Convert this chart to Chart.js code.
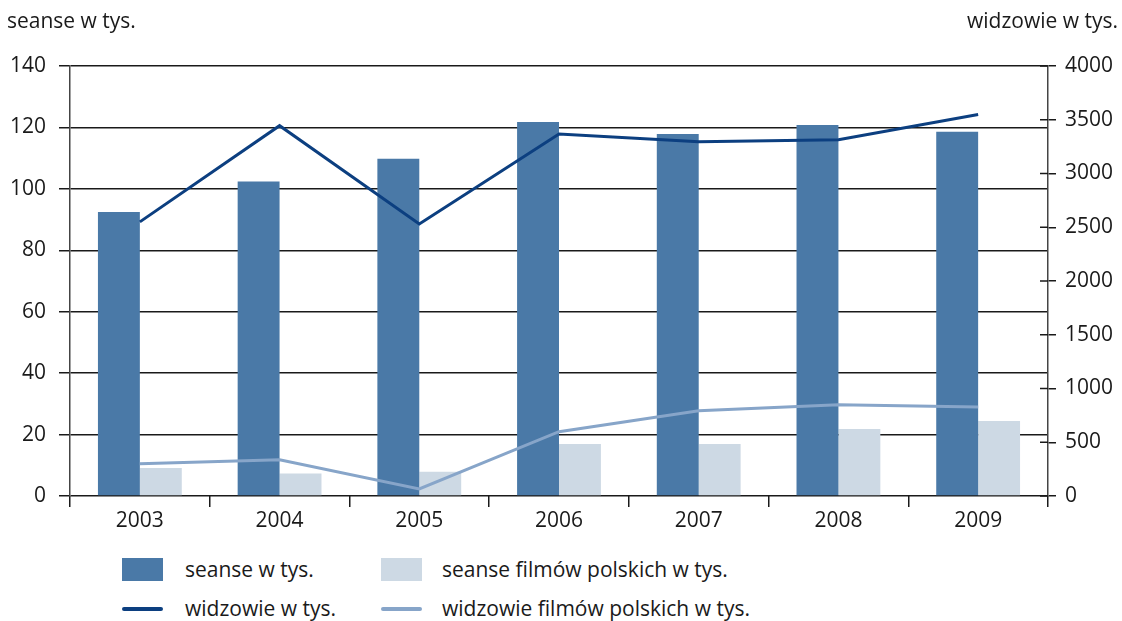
<!DOCTYPE html>
<html>
<head>
<meta charset="utf-8">
<script src="https://cdn.jsdelivr.net/npm/chart.js@4"></script>
<style>
  body { margin: 0; background: #fff; font-family: "Open Sans", sans-serif; }
  #wrap { position: relative; width: 1122px; height: 621px; }
  #c { position: absolute; left: 0; top: 0; }
  .lg { position: absolute; font-size: 21px; color: #1a1a1a; line-height: 26px; white-space: nowrap; }
  .sw { position: absolute; }
</style>
</head>
<body>
<div id="wrap">
  <canvas id="c" width="1122" height="540"></canvas>
  <div id="legend"></div>
</div>
<script>
var years = ['2003', '2004', '2005', '2006', '2007', '2008', '2009'];
var seanse = [92.5, 102.4, 109.8, 121.8, 117.9, 120.8, 118.6];
var seansePl = [9.1, 7.3, 7.9, 16.9, 16.9, 21.8, 24.4];
var widzowie = [2550, 3445, 2530, 3368, 3295, 3315, 3548];
var widzowiePl = [300, 338, 65, 598, 792, 848, 828];

var leftTicks = [0, 20, 40, 60, 80, 100, 120, 140];
var rightTicks = [0, 500, 1000, 1500, 2000, 2500, 3000, 3500, 4000];

var colDark = '#4a79a7';
var colLight = '#cdd9e4';
var lineDark = '#0c3f80';
var lineLight = '#87a5c9';
var axisCol = '#1a1a1a';

// titles and inner half of the right axis ticks
var extras = {
  id: 'extras',
  afterDraw: function(chart) {
    var ctx = chart.ctx;
    var y2 = chart.scales.y2;
    ctx.save();
    ctx.strokeStyle = axisCol;
    ctx.lineWidth = 1.5;
    rightTicks.forEach(function(v) {
      var py = y2.getPixelForValue(v);
      ctx.beginPath();
      ctx.moveTo(chart.chartArea.right - 8, py);
      ctx.lineTo(chart.chartArea.right, py);
      ctx.stroke();
    });
    ctx.fillStyle = '#1a1a1a';
    ctx.font = '21px "Open Sans"';
    ctx.textBaseline = 'middle';
    ctx.textAlign = 'left';
    ctx.fillText('seanse w tys.', 7, 22);
    ctx.textAlign = 'right';
    ctx.fillText('widzowie w tys.', 1118, 22);
    ctx.restore();
  }
};

var tickFont = { family: 'Open Sans', size: 21 };

var ctx = document.getElementById('c');
var chart = new Chart(ctx, {
  type: 'bar',
  data: {
    labels: years,
    datasets: [
      { label: 'seanse w tys.', data: seanse, backgroundColor: colDark, yAxisID: 'y', order: 3 },
      { label: 'seanse filmów polskich w tys.', data: seansePl, backgroundColor: colLight, yAxisID: 'y', order: 4 },
      { type: 'line', label: 'widzowie w tys.', data: widzowie, borderColor: lineDark, borderWidth: 3,
        pointRadius: 0, tension: 0, yAxisID: 'y2', order: 1 },
      { type: 'line', label: 'widzowie filmów polskich w tys.', data: widzowiePl, borderColor: lineLight, borderWidth: 3,
        pointRadius: 0, tension: 0, yAxisID: 'y2', order: 2 }
    ]
  },
  options: {
    responsive: false,
    animation: false,
    layout: { padding: { top: 66, left: 0, right: 0, bottom: 0 } },
    datasets: { bar: { categoryPercentage: 0.6, barPercentage: 1.0 } },
    plugins: { legend: { display: false }, tooltip: { enabled: false } },
    scales: {
      x: {
        offset: true,
        grid: { offset: true, drawOnChartArea: false, drawTicks: true, tickLength: 11, color: axisCol, lineWidth: 1.5 },
        border: { display: false },
        ticks: { color: '#1a1a1a', font: tickFont, padding: 1 },
        afterFit: function(s) { s.height = 44; }
      },
      y: {
        position: 'left',
        min: 0, max: 140,
        afterBuildTicks: function(s) { s.ticks = leftTicks.map(function(v) { return { value: v }; }); },
        grid: { color: axisCol, lineWidth: 1.5, tickLength: 11 },
        border: { color: '#444', width: 1.5 },
        ticks: { color: '#1a1a1a', font: tickFont, padding: 13 },
        afterFit: function(s) { s.width = 70; }
      },
      y2: {
        position: 'right',
        min: 0, max: 4000,
        afterBuildTicks: function(s) { s.ticks = rightTicks.map(function(v) { return { value: v }; }); },
        grid: { drawOnChartArea: false, color: axisCol, lineWidth: 1.5, tickLength: 8 },
        border: { color: '#444', width: 1.5 },
        ticks: { color: '#1a1a1a', font: tickFont, padding: 9,
          callback: function(v) { return String(v); } },
        afterFit: function(s) { s.width = 74; }
      }
    }
  },
  plugins: [extras]
});

// HTML legend built from the datasets
var pos = [
  { sx: 122, sy: 558, tx: 185, ty: 556 },
  { sx: 381, sy: 558, tx: 442, ty: 556 },
  { sx: 122, sy: 607, tx: 185, ty: 595 },
  { sx: 381, sy: 607, tx: 442, ty: 595 }
];
var lg = document.getElementById('legend');
chart.data.datasets.forEach(function(ds, i) {
  var p = pos[i];
  var sw = document.createElement('div');
  sw.className = 'sw';
  sw.style.left = p.sx + 'px';
  sw.style.width = '41px';
  sw.style.top = p.sy + 'px';
  if (ds.type === 'line') {
    sw.style.height = '4px';
    sw.style.borderRadius = '2px';
    sw.style.background = ds.borderColor;
  } else {
    sw.style.height = '23px';
    sw.style.background = ds.backgroundColor;
  }
  lg.appendChild(sw);
  var t = document.createElement('div');
  t.className = 'lg';
  t.style.left = p.tx + 'px';
  t.style.top = p.ty + 'px';
  t.textContent = ds.label;
  lg.appendChild(t);
});
</script>
</body>
</html>
